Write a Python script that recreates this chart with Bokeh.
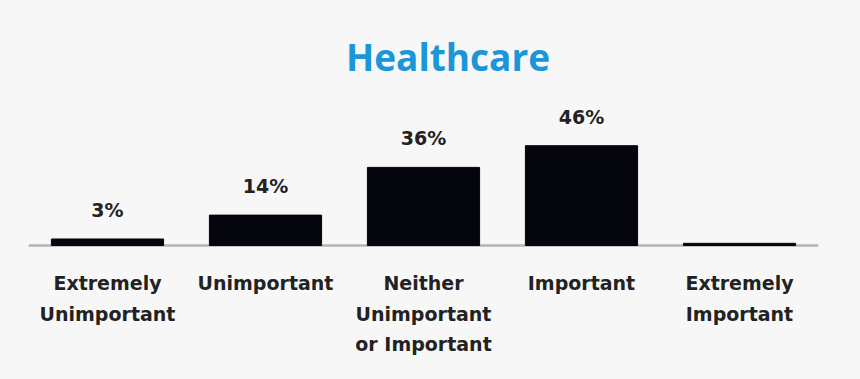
from bokeh.plotting import figure
from bokeh.models import ColumnDataSource, Span, Label, FactorRange, Range1d
from bokeh.core.properties import value
from bokeh.embed import file_html
from bokeh.resources import INLINE

categories = ["Extremely Unimportant", "Unimportant", "Neither Unimportant or Important",
              "Important", "Extremely Important"]
tick_labels = ["Extremely\nUnimportant", "Unimportant", "Neither\nUnimportant\nor Important",
               "Important", "Extremely\nImportant"]
percent = [3, 14, 36, 46, 1]
value_labels = ["3%", "14%", "36%", "46%", ""]

BG = "#f7f7f7"

src = ColumnDataSource(dict(cat=categories, pct=percent, lab=value_labels,
                            tick=tick_labels, zero=[0] * len(categories)))

p = figure(width=860, height=379, x_range=FactorRange(factors=categories),
           y_range=Range1d(-61.75, 112.9), output_backend="svg", toolbar_location=None,
           min_border_left=28, min_border_right=42, min_border_top=0, min_border_bottom=0)
p.axis.visible = False
p.grid.visible = False
p.outline_line_color = None
p.background_fill_color = BG
p.border_fill_color = BG

p.add_layout(Span(location=0, dimension="width", line_color="#b3b3b3",
                  line_width=2.5, level="underlay"))

p.vbar(x="cat", top="pct", width=0.71, source=src, color="#05050d")

p.text(x="cat", y="pct", text="lab", source=src, text_align="center",
       text_baseline="bottom", y_offset=-18, text_font=value("DejaVu Sans"),
       text_font_style="bold", text_font_size="19px", text_color="#222222")

p.text(x="cat", y="zero", text="tick", source=src, text_align="center",
       text_baseline="top", y_offset=27, text_font=value("DejaVu Sans"),
       text_font_style="bold", text_font_size="19px", text_color="#222222",
       text_line_height=1.38)

p.add_layout(Label(x=419.5, y=323, x_units="screen", y_units="screen", text="Healthcare",
                   text_align="center", text_baseline="middle",
                   text_font="Open Sans", text_font_style="bold",
                   text_font_size="37px", text_color="#1a96d9"))

html = file_html(p, INLINE)
html = html.replace("<head>", "<head><style>body{background:#f7f7f7;}</style>", 1)
open("out.html", "w").write(html)
